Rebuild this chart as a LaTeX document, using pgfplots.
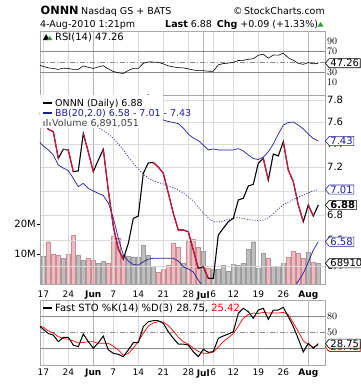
\documentclass[border=0pt]{standalone}
\usepackage{pgfplots}
\pgfplotsset{compat=1.18}
\usepackage{pgfplotstable}
\usepackage{fontspec}
\setmainfont{DejaVu Sans}
\usetikzlibrary{shapes.symbols}

\definecolor{bbblue}{HTML}{1F1F9F}
\definecolor{pricered}{HTML}{E0103C}
\definecolor{volpink}{HTML}{E8BCC0}
\definecolor{volpinkedge}{HTML}{D08A92}
\definecolor{volgrey}{HTML}{BEBEBE}
\definecolor{volgreyedge}{HTML}{9C9C9C}
\definecolor{gridc}{HTML}{DADADA}
\definecolor{monthgrid}{HTML}{B4B4B4}
\definecolor{framec}{HTML}{A8A8A8}
\definecolor{levelc}{HTML}{8A8A8A}
\definecolor{upgreen}{HTML}{2E9A2E}

\newcommand\tf{\fontsize{10}{11}\selectfont}
\newcommand\lf{\fontsize{9.5}{11}\selectfont}
\newcommand\hf{\fontsize{9.5}{11}\selectfont}

\pgfplotstableread{
i close upper mid lower rsi k d
-1 7.70 7.95 7.62 7.428 44 64 63
0 7.62 7.95 7.62 7.384 41 56 60
1 7.532 7.95 7.62 7.349 38 48 53
2 7.511 7.95 7.62 7.305 37 45 49
3 7.276 7.95 7.61 7.218 35 32.5 42
4 7.355 7.95 7.61 7.192 37.5 40.8 38.5
5 7.349 7.95 7.60 7.171 37 40.8 37
6 7.161 7.95 7.60 7.104 35 26 34
7 7.167 7.95 7.59 7.034 35 23 30
8 7.496 7.95 7.59 7.062 42 47 31
9 7.331 7.95 7.58 7.020 39 32.5 32.5
10 7.161 7.95 7.57 6.998 37 20 32.5
11 7.261 7.95 7.548 6.978 40 30.5 29.4
12 7.355 7.95 7.522 6.960 42.4 43 29.4
13 7.006 7.95 7.490 6.898 36 17 29.4
14 6.711 7.95 7.450 6.776 31 10.4 24
15 6.530 7.95 7.401 6.616 28.5 8.5 16.7
16 6.452 7.95 7.349 6.483 27 4 7
17 6.574 7.95 7.287 6.437 33 16.7 10
18 6.773 7.95 7.232 6.410 37 30.5 20
19 6.792 7.96 7.184 6.406 37 30.5 33
20 7.147 7.93 7.141 6.431 47 61 48.4
21 7.235 7.85 7.107 6.452 49.7 70.4 62
22 7.240 7.78 7.082 6.458 49.5 72.3 68
23 7.201 7.69 7.069 6.458 49 72.3 70.4
24 7.147 7.616 7.056 6.458 46 67.4 70
25 6.981 7.603 7.040 6.458 42 51.4 63
26 6.814 7.594 7.023 6.458 40 39 53
27 6.679 7.584 7.006 6.437 38.5 28 41
28 6.679 7.544 6.981 6.393 38 28 32.5
29 6.666 7.490 6.948 6.376 36 26.2 28
30 6.522 7.454 6.915 6.353 34 13.5 20
31 6.381 7.432 6.865 6.292 32.5 4 14
32 6.393 7.392 6.816 6.240 32.5 18 10.4
33 6.305 7.349 6.776 6.18 31.5 12.3 10.4
34 6.305 7.357 6.747 6.15 31.5 13.5 13
35 6.640 7.349 6.743 6.12 44 38.9 22
36 6.693 7.349 6.751 6.10 46.5 43.3 32.5
37 6.746 7.349 6.764 6.10 47.5 47 40
38 6.773 7.349 6.776 6.10 49 51.4 48
39 6.923 7.361 6.780 6.12 52.5 86.3 62
40 6.937 7.340 6.772 6.14 53 95.8 76.8
41 7.040 7.305 6.764 6.15 55 89.4 84
42 7.054 7.274 6.760 6.15 56 76.8 87
43 7.233 7.266 6.756 6.16 63 92.6 86
44 7.276 7.287 6.760 6.18 65 95.8 88
45 7.090 7.332 6.776 6.18 57 75 87
46 7.313 7.401 6.808 6.18 63.5 92.6 87
47 7.296 7.490 6.849 6.19 63 92.6 87
48 7.422 7.571 6.882 6.20 67 97.7 88
49 7.175 7.594 6.906 6.21 58 80 84
50 7.076 7.598 6.927 6.23 53 61 68
51 6.882 7.571 6.948 6.285 47 38 52
52 6.746 7.535 6.964 6.343 45 13 34
53 6.882 7.490 6.981 6.429 48.5 29.4 27
54 6.792 7.450 6.998 6.522 46 20 22
55 6.882 7.428 7.010 6.587 47.26 28.75 25.42
}\data

\pgfplotstableread{
i p
-1 7.70
0 7.62
1 7.532
2 7.511
3 7.276
nan nan
4 7.355
5 7.349
6 7.161
nan nan
8 7.496
9 7.331
10 7.161
nan nan
12 7.355
13 7.006
14 6.711
15 6.530
16 6.452
nan nan
22 7.240
23 7.201
24 7.147
25 6.981
26 6.814
27 6.679
28 6.679
29 6.666
30 6.522
31 6.381
nan nan
32 6.393
33 6.305
nan nan
44 7.276
45 7.090
nan nan
48 7.422
49 7.175
50 7.076
51 6.882
52 6.746
nan nan
53 6.882
54 6.792
}\reddown

\pgfplotsset{
  panel/.style={
    scale only axis, width=285pt, xmin=-0.66, xmax=56.34,
    axis line style={draw=framec, line width=0.6pt},
    xtick={0,5,10,14,19,24,29,32,34,38,43,48,53},
    xticklabels={}, xmajorgrids,
    grid style={draw=gridc, line width=0.5pt},
    extra x ticks={10,32,53}, extra x tick labels={},
    extra x tick style={grid style={draw=monthgrid, line width=0.5pt}},
    tick style={draw=none},
    yticklabel pos=right,
    yticklabel style={anchor=west, inner sep=0pt, xshift=2pt, font=\tf},
    clip mode=individual,
  },
  datelabels/.style={
    xticklabels={17,24,\textbf{Jun},7,14,21,28,\textbf{Jul},6,12,19,26,\textbf{Aug}},
    xticklabel style={font=\fontsize{9}{10}\selectfont, inner sep=0pt, yshift=-4pt},
  },
}
\tikzset{
  tag/.style={draw, fill=white, shape=signal, signal to=west,
    signal pointer angle=100, inner xsep=1.2pt, inner ysep=0.8pt,
    anchor=west, font=\tf, line width=0.6pt},
}

\begin{document}
\begin{tikzpicture}
\fill[white] (0pt,0pt) rectangle (360pt,-384pt);
\path[use as bounding box] (0pt,0pt) rectangle (360pt,-384pt);

% ---------- header ----------
\node[anchor=base west, inner sep=0pt, font=\bfseries\fontsize{11.3}{13}\selectfont] at (40.5pt,-14pt) {ONNN};
\node[anchor=base west, inner sep=0pt, font=\hf] at (81pt,-14pt) {Nasdaq GS + BATS};
\node[anchor=base east, inner sep=0pt, font=\hf] at (325pt,-14pt) {\textcopyright\,StockCharts.com};
\node[anchor=base west, inner sep=0pt, font=\hf] at (40pt,-27pt) {4-Aug-2010 1:21pm};
\node[anchor=base west, inner sep=0pt, font=\hf] at (165pt,-27pt) {\textbf{Last} 6.88\enspace\textbf{Chg} +0.09 (+1.33\%)};
\fill[upgreen] (317.5pt,-26.5pt) -- (323.5pt,-26.5pt) -- (320.5pt,-22pt) -- cycle;

% ---------- RSI panel ----------
\begin{axis}[panel, at={(40pt,-31pt)}, anchor=north west, height=64pt,
  ymin=-15.4, ymax=110.7, ytick={10,30,70,90}]
\draw[levelc, line width=0.6pt] (axis cs:-0.66,70) -- (axis cs:56.34,70);
\draw[levelc, line width=0.6pt] (axis cs:-0.66,30) -- (axis cs:56.34,30);
\draw[levelc, line width=0.6pt, dash pattern=on 5pt off 2pt on 1pt off 2pt] (axis cs:-0.66,50) -- (axis cs:56.34,50);
\addplot[black, line width=0.6pt] table[x=i, y=rsi]{\data};
\coordinate (trsi) at (axis cs:56.34,47.26);
\end{axis}
\node[anchor=base west, inner sep=0pt, font=\tf] at (55pt,-40pt) {RSI(14) 47.26};
\fill[black] (43pt,-40pt) -- (46pt,-34pt) -- (48.5pt,-38pt) -- (48.5pt,-40pt) -- cycle;
\fill[upgreen] (47pt,-40pt) -- (49.5pt,-36pt) -- (52.5pt,-40pt) -- cycle;

% ---------- volume (behind price) ----------
\begin{axis}[scale only axis, width=285pt, height=189pt, at={(40pt,-95pt)}, anchor=north west,
  xmin=-0.66, xmax=56.34, ymin=0, ymax=63,
  axis line style={draw=none},
  xtick={0,5,10,14,19,24,29,32,34,38,43,48,53}, datelabels,
  xtick style={draw=none},
  ytick={10,20}, yticklabels={10M,20M}, ytick pos=left,
  yticklabel style={font=\tf, inner sep=0pt, xshift=-1pt},
  ytick style={draw=black, line width=0.5pt}, major tick length=3pt, tick align=outside,
  ybar, bar width=4.5pt, bar shift=0pt, clip mode=individual]
\addplot[fill=volpink, draw=volpinkedge, line width=0.4pt] coordinates {
(-1,12.7)(1,14.1)(2,9.9)(3,9.7)(5,9.9)(6,16.2)(9,8.6)(10,8.0)(13,6.9)(14,15.8)(15,15.4)(16,9.7)
(23,3.9)(24,4.8)(25,6.3)(26,13.6)(27,12.2)(29,14.3)(30,14.9)(31,12.2)(33,5.2)(45,8.6)
(49,8.8)(50,10.8)(51,10.2)(52,8.6)(54,7.2)};
\addplot[fill=volgrey, draw=volgreyedge, line width=0.4pt] coordinates {
(0,9.1)(4,8.6)(7,9.7)(8,7.9)(11,6.8)(12,7.6)(17,9.1)(18,8.9)(19,9.0)(20,12.8)(21,9.7)(22,5.8)
(28,7.0)(32,10.8)(34,4.9)(35,4.9)(36,6.3)(37,4.1)(38,6.6)(39,6.3)(40,6.9)(41,11.6)(42,14.1)
(43,5.2)(44,10.2)(46,5.8)(47,5.8)(48,6.9)(53,10.6)(55,6.891)};
\coordinate (tvol) at (axis cs:56.34,6.891);
\end{axis}

% ---------- price panel ----------
\begin{axis}[panel, at={(40pt,-95pt)}, anchor=north west, height=189pt,
  ymode=log, ymin=6.263, ymax=7.847,
  ytick={6.4,6.6,6.8,7.0,7.2,7.4,7.6,7.8},
  yticklabels={6.4,6.6,6.8,7.0,7.2,7.4,7.6,7.8},
  ymajorgrids, unbounded coords=jump]
\addplot[bbblue, line width=0.7pt] table[x=i, y=upper]{\data};
\addplot[bbblue, line width=0.7pt] table[x=i, y=lower]{\data};
\addplot[bbblue, line width=0.7pt, dash pattern=on 1pt off 1.6pt] table[x=i, y=mid]{\data};
\addplot[black, line width=1.1pt] table[x=i, y=close]{\data};
\addplot[pricered, line width=1.1pt] table[x=i, y=p]{\reddown};
\coordinate (tup) at (axis cs:56.34,7.428);
\coordinate (tmid) at (axis cs:56.34,7.010);
\coordinate (tlo) at (axis cs:56.34,6.587);
\coordinate (tcl) at (axis cs:56.34,6.882);
\end{axis}
% legend box
\fill[white] (40.4pt,-95.4pt) rectangle (163pt,-128pt);
\draw[black, line width=1.6pt] (43pt,-103pt) -- (52pt,-103pt);
\node[anchor=base west, inner sep=0pt, font=\lf] at (55pt,-106.5pt) {ONNN (Daily) 6.88};
\draw[bbblue, line width=1.6pt] (43pt,-113pt) -- (52pt,-113pt);
\node[anchor=base west, inner sep=0pt, font=\lf, text=bbblue] at (55pt,-116.5pt) {BB(20,2.0) 6.58 - 7.01 - 7.43};
\fill[gray!75] (43pt,-126pt) rectangle (45pt,-121pt);
\fill[gray!75] (46pt,-126pt) rectangle (48pt,-119pt);
\fill[gray!75] (49pt,-126pt) rectangle (51pt,-122pt);
\node[anchor=base west, inner sep=0pt, font=\lf, text=black!75] at (52pt,-126pt) {Volume 6,891,051};

% ---------- Fast STO panel ----------
\begin{axis}[panel, at={(40pt,-300pt)}, anchor=north west, height=65pt,
  ymin=-11.8, ymax=111.6, ytick={20,50,80}, datelabels]
\draw[levelc, line width=0.6pt] (axis cs:-0.66,80) -- (axis cs:56.34,80);
\draw[levelc, line width=0.6pt] (axis cs:-0.66,20) -- (axis cs:56.34,20);
\draw[levelc, line width=0.6pt, dash pattern=on 5pt off 2pt on 1pt off 2pt] (axis cs:-0.66,50) -- (axis cs:56.34,50);
\addplot[red, line width=0.7pt] table[x=i, y=d]{\data};
\addplot[black, line width=1.0pt] table[x=i, y=k]{\data};
\coordinate (tk) at (axis cs:56.34,28.75);
\coordinate (td) at (axis cs:56.34,25.42);
\end{axis}
\draw[black, line width=1.6pt] (43pt,-308pt) -- (52pt,-308pt);
\node[anchor=base west, inner sep=0pt, font=\tf] at (55pt,-311.5pt) {Fast STO \%K(14) \%D(3) 28.75, \textcolor{red}{25.42}};

% ---------- value tags ----------
\node[tag] at (trsi) {47.26};
\node[tag, draw=bbblue, text=bbblue] at (tup) {7.43};
\node[tag, draw=bbblue, text=bbblue] at (tmid) {7.01};
\node[tag, font=\tf\bfseries] at (tcl) {6.88};
\node[tag, draw=bbblue, text=bbblue] at (tlo) {6.58};
\node[tag] at (tvol) {6891051};
\node[tag, draw=red, text=red, yshift=-1.5pt] at (td) {25.42};
\node[tag] at (tk) {28.75};
\end{tikzpicture}
\end{document}
